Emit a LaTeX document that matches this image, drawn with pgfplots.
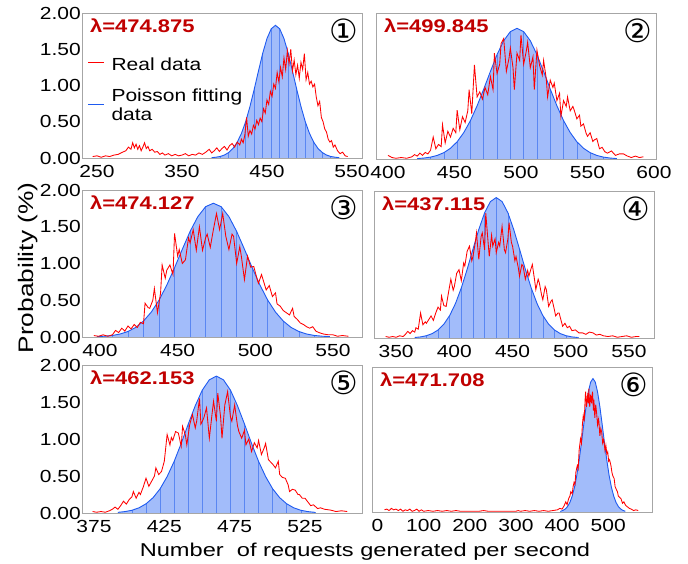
\documentclass[border=0pt]{standalone}
\usepackage{fontspec}
\setmainfont{Liberation Sans}[FakeStretch=1.2]
\newfontfamily\titlefont{Liberation Sans}[FakeStretch=1.27]
\newfontfamily\ylabfont{Liberation Sans}[FakeStretch=1.25]
\newfontfamily\circfont{DejaVu Sans}
\usepackage{pgfplots}
\usepackage{pgfplotstable}
\pgfplotsset{compat=1.18}

\definecolor{lamred}{RGB}{192,0,0}
\definecolor{fitblue}{RGB}{30,90,240}
\definecolor{fillblue}{RGB}{162,188,250}
\definecolor{stripeblue}{RGB}{90,135,242}
\definecolor{framegray}{RGB}{166,166,166}

\newcommand{\tickfont}{\fontsize{17.5}{19}\selectfont}

\pgfplotsset{
  panel/.style={
    scale only axis, width=280pt, height=145pt,
    ymin=0, ymax=2, ytick={0,0.5,1,1.5,2},
    axis line style={framegray, line width=0.8pt},
    tick style={draw=none}, major tick length=0pt,
    /pgf/number format/assume math mode=true,
    tick label style={font=\tickfont, text=black},
    yticklabel={\pgfmathprintnumber[fixed,fixed zerofill,precision=2]{\tick}},
    yticklabel style={inner sep=1pt},
    xticklabel style={inner sep=0pt, yshift=-7pt},
    axis on top, clip mode=individual,
  },
  noylabels/.style={yticklabels={}},
  fitfill/.style={fill=fillblue, draw=none, forget plot},
  fitstripe/.style={ycomb, stripeblue, line width=0.5pt, forget plot, mark=none,
    each nth point=2},
  fitline/.style={fitblue, line width=0.9pt, forget plot, mark=none},
  realline/.style={red, line width=0.85pt, forget plot, mark=none},
}
\tikzset{
  lamnode/.style={anchor=north west, inner sep=0pt, xshift=8pt, yshift=-5.5pt,
    text=lamred, font=\bfseries\fontsize{18.3}{20}\selectfont},
  circnode/.style={anchor=north east, inner sep=0pt, xshift=-4pt, yshift=-5.5pt,
    font=\circfont\fontsize{32}{34}\selectfont},
  legtext/.style={anchor=base west, inner sep=0pt, font=\tickfont},
}

% Poisson fitting curves, one table per panel
\pgfplotstableread{
x y
385 0.005
390 0.011
395 0.021
400 0.041
405 0.076
410 0.132
415 0.218
420 0.340
425 0.503
430 0.710
435 0.948
440 1.200
445 1.444
450 1.647
455 1.782
460 1.830
465 1.782
470 1.647
475 1.444
480 1.200
485 0.948
490 0.710
495 0.503
500 0.340
505 0.218
510 0.132
515 0.076
520 0.041
525 0.021
530 0.011
535 0.005
}\fitA
\pgfplotstableread{
x y
422 0.006
427 0.013
432 0.026
437 0.049
442 0.087
447 0.147
452 0.236
457 0.362
462 0.526
467 0.729
472 0.958
477 1.199
482 1.430
487 1.620
492 1.745
497 1.790
502 1.745
507 1.620
512 1.430
517 1.199
522 0.958
527 0.729
532 0.526
537 0.362
542 0.236
547 0.147
552 0.087
557 0.049
562 0.026
567 0.013
572 0.006
}\fitB
\pgfplotstableread{
x y
398 0.005
403 0.011
408 0.021
413 0.041
418 0.075
423 0.131
428 0.217
433 0.339
438 0.501
443 0.706
448 0.943
453 1.194
458 1.436
463 1.638
468 1.773
473 1.820
478 1.773
483 1.638
488 1.436
493 1.194
498 0.943
503 0.706
508 0.501
513 0.339
518 0.217
523 0.131
528 0.075
533 0.041
538 0.021
543 0.011
548 0.005
}\fitC
\pgfplotstableread{
x y
366 0.007
371 0.015
376 0.031
381 0.060
386 0.109
391 0.188
396 0.306
401 0.470
406 0.682
411 0.934
416 1.209
421 1.476
426 1.704
431 1.857
436 1.910
441 1.857
446 1.704
451 1.476
456 1.209
461 0.934
466 0.682
471 0.470
476 0.306
481 0.188
486 0.109
491 0.060
496 0.031
501 0.015
506 0.007
}\fitD
\pgfplotstableread{
x y
392 0.009
397 0.019
402 0.037
407 0.070
412 0.124
417 0.207
422 0.327
427 0.492
432 0.697
437 0.940
442 1.201
447 1.450
452 1.661
457 1.800
462 1.850
467 1.800
472 1.661
477 1.450
482 1.201
487 0.940
492 0.697
497 0.492
502 0.327
507 0.207
512 0.124
517 0.070
522 0.037
527 0.019
532 0.009
}\fitE
\pgfplotstableread{
x y
397 0.011
402 0.022
407 0.042
412 0.076
417 0.132
422 0.219
427 0.342
432 0.506
437 0.714
442 0.953
447 1.207
452 1.452
457 1.656
462 1.792
467 1.840
472 1.792
477 1.656
482 1.452
487 1.207
492 0.953
497 0.714
502 0.506
507 0.342
512 0.219
517 0.132
522 0.076
527 0.042
532 0.022
537 0.011
}\fitF

\begin{document}
\begin{tikzpicture}
\useasboundingbox (0pt,0pt) rectangle (688pt,563pt);

% ---- panel 1 ----
\begin{axis}[panel, at={(82pt,405pt)}, anchor=south west, height=145pt,
  xmin=232.4, xmax=561.8, xtick={250,350,450,550}]
\addplot[fitfill] table {\fitA} \closedcycle;
\addplot[fitstripe] table {\fitA};
\addplot[fitline] table {\fitA};
\addplot[realline] coordinates {
(245,0.02)(250,0.03)(255,0.01)(260,0.03)(265,0.02)(270,0.04)(275,0.05)(280,0.08)
(284,0.10)(287,0.15)(290,0.12)(292,0.21)(294,0.14)(296,0.19)(298,0.12)(300,0.17)
(302,0.10)(304,0.15)(306,0.21)(308,0.13)(310,0.16)(312,0.10)(315,0.12)(318,0.08)
(321,0.09)(324,0.05)(327,0.07)(330,0.04)(334,0.06)(338,0.03)(342,0.05)(346,0.03)
(350,0.04)(354,0.06)(358,0.03)(362,0.05)(366,0.04)(370,0.07)(374,0.05)(378,0.08)
(382,0.12)(385,0.07)(388,0.10)(391,0.14)(394,0.09)(397,0.13)(400,0.16)(403,0.11)
(406,0.17)(409,0.20)(412,0.15)(415,0.22)(418,0.18)(420,0.26)(422,0.21)(424,0.32)
(426,0.56)(428,0.30)(430,0.38)(432,0.33)(434,0.45)(436,0.40)(438,0.52)(440,0.46)
(442,0.55)(444,0.50)(446,0.68)(448,0.62)(450,0.80)(452,0.74)(454,0.92)(456,0.85)
(458,1.02)(460,0.96)(462,1.18)(464,1.05)(466,1.25)(468,1.12)(470,1.38)(472,1.22)
(474,1.48)(476,1.30)(478,1.50)(480,1.20)(482,1.35)(484,1.15)(486,1.28)(488,1.10)
(490,1.32)(492,1.22)(494,1.44)(496,1.08)(498,1.18)(500,1.02)(502,1.06)(504,0.98)
(506,1.02)(508,0.84)(510,0.72)(512,0.78)(514,0.56)(516,0.50)(518,0.40)(520,0.36)
(522,0.26)(524,0.22)(526,0.24)(528,0.15)(530,0.18)(533,0.10)(536,0.06)(539,0.08)
(542,0.03)(545,0.02)
};
\node[lamnode] at (rel axis cs:0,1) {λ=474.875};
\node[circnode] at (rel axis cs:1,1) {①};
% legend
\draw[red, line width=1pt] ([xshift=6pt,yshift=-49.3pt]rel axis cs:0,1) -- ++(16pt,0pt);
\node[legtext] at ([xshift=29.3pt,yshift=-58pt]rel axis cs:0,1) {Real data};
\draw[fitblue, line width=1pt] ([xshift=6pt,yshift=-91.3pt]rel axis cs:0,1) -- ++(16pt,0pt);
\node[legtext] at ([xshift=29.3pt,yshift=-88.7pt]rel axis cs:0,1) {Poisson fitting};
\node[legtext] at ([xshift=29.3pt,yshift=-108pt]rel axis cs:0,1) {data};
\end{axis}

% ---- panel 2 ----
\begin{axis}[panel, noylabels, at={(376pt,404pt)}, anchor=south west, height=146pt,
  xmin=391, xmax=601.5, xtick={400,450,500,550,600}]
\addplot[fitfill] table {\fitB} \closedcycle;
\addplot[fitstripe] table {\fitB};
\addplot[fitline] table {\fitB};
\addplot[realline] coordinates {
(400,0.05)(403,0.02)(406,0.01)(410,0.02)(414,0.01)(418,0.03)(420,0.06)(422,0.04)
(424,0.08)(426,0.05)(428,0.09)(430,0.07)(432,0.12)(434,0.30)(436,0.14)(438,0.20)
(440,0.17)(441,0.47)(443,0.22)(445,0.38)(447,0.30)(449,0.42)(451,0.36)(452,0.67)
(454,0.40)(456,0.58)(458,0.50)(460,0.66)(461,0.95)(463,0.62)(465,1.29)(467,0.85)
(469,0.92)(471,0.82)(473,0.98)(475,0.88)(477,1.13)(479,0.95)(480,1.45)(482,1.17)
(484,1.30)(485,1.58)(487,1.65)(489,1.20)(491,1.38)(492,1.52)(494,1.25)(495,0.95)
(497,1.45)(499,1.35)(500,1.70)(502,1.30)(504,1.48)(505,1.60)(507,1.25)(509,1.40)
(510,0.95)(512,1.49)(514,1.28)(516,1.15)(517,1.35)(519,1.10)(520,0.85)(522,1.08)
(524,0.98)(525,1.04)(527,0.80)(529,0.90)(530,0.58)(532,0.80)(534,0.72)(535,0.85)
(537,0.66)(539,0.72)(540,0.67)(542,0.55)(544,0.60)(545,0.45)(547,0.48)(549,0.35)
(550,0.31)(552,0.36)(554,0.24)(555,0.26)(557,0.28)(559,0.14)(561,0.16)(563,0.10)
(565,0.08)(568,0.11)(571,0.05)(574,0.07)(577,0.07)(580,0.04)(583,0.02)(586,0.04)
(589,0.02)(592,0.03)
};
\node[lamnode] at (rel axis cs:0,1) {λ=499.845};
\node[circnode] at (rel axis cs:1,1) {②};
\end{axis}

% ---- panel 3 ----
\begin{axis}[panel, at={(82pt,226pt)}, anchor=south west, height=147pt,
  xmin=388.4, xmax=568.7, xtick={400,450,500,550}]
\addplot[fitfill] table {\fitC} \closedcycle;
\addplot[fitstripe] table {\fitC};
\addplot[fitline] table {\fitC};
\addplot[realline] coordinates {
(396,0.02)(399,0.01)(402,0.03)(405,0.01)(408,0.03)(410,0.09)(412,0.06)(414,0.12)
(416,0.08)(418,0.15)(420,0.11)(422,0.17)(424,0.13)(426,0.20)(428,0.18)(429,0.46)
(431,0.40)(432,0.39)(434,0.50)(435,0.66)(437,0.33)(439,0.60)(440,0.98)(442,0.80)
(443,0.91)(445,0.98)(447,0.85)(448,1.41)(450,1.10)(451,1.19)(453,1.00)(455,1.05)
(457,1.35)(458,1.28)(460,1.46)(462,1.18)(464,1.50)(466,1.18)(468,1.35)(469,1.40)
(471,1.22)(473,1.46)(475,1.68)(477,1.46)(479,1.68)(481,1.37)(483,1.19)(485,1.40)
(486,1.37)(488,1.00)(490,1.23)(491,1.10)(493,0.78)(495,1.10)(497,0.95)(499,0.96)
(501,0.80)(502,0.73)(504,0.85)(505,0.78)(507,0.64)(509,0.70)(511,0.55)(513,0.60)
(514,0.45)(516,0.42)(518,0.36)(520,0.33)(522,0.30)(524,0.39)(525,0.28)(527,0.24)
(529,0.19)(531,0.17)(533,0.14)(535,0.12)(537,0.14)(539,0.08)(541,0.06)(544,0.04)
(547,0.03)(550,0.03)(553,0.01)(556,0.02)(560,0.01)
};
\node[lamnode] at (rel axis cs:0,1) {λ=474.127};
\node[circnode] at (rel axis cs:1,1) {③};
\end{axis}

% ---- panel 4 ----
\begin{axis}[panel, noylabels, at={(374pt,225pt)}, anchor=south west, height=147pt,
  xmin=331, xmax=571.5, xtick={350,400,450,500,550}]
\addplot[fitfill] table {\fitD} \closedcycle;
\addplot[fitstripe] table {\fitD};
\addplot[fitline] table {\fitD};
\addplot[realline] coordinates {
(341,0.02)(344,0.01)(347,0.02)(350,0.01)(353,0.03)(356,0.02)(358,0.05)(360,0.09)
(362,0.06)(364,0.10)(366,0.08)(367,0.14)(369,0.12)(371,0.34)(373,0.18)(375,0.22)
(376,0.20)(378,0.25)(380,0.30)(382,0.24)(384,0.34)(386,0.42)(388,0.38)(389,0.57)
(391,0.44)(393,0.43)(395,0.62)(397,0.80)(399,0.65)(400,0.70)(402,0.88)(404,0.93)
(406,0.78)(408,1.02)(409,0.98)(411,1.18)(413,1.25)(415,1.05)(416,1.11)(418,1.30)
(419,1.43)(421,1.07)(423,1.38)(424,1.43)(426,1.20)(427,1.70)(429,1.30)(430,1.11)
(432,1.40)(433,1.25)(435,1.35)(436,1.16)(438,1.30)(439,1.25)(441,1.52)(443,1.20)
(444,1.16)(446,1.35)(447,1.57)(449,1.30)(450,1.25)(452,1.05)(453,1.11)(455,0.95)
(456,0.84)(458,1.00)(459,0.98)(461,0.80)(463,0.92)(464,0.84)(466,0.95)(467,1.00)
(469,0.78)(470,0.66)(472,0.80)(473,0.75)(475,0.58)(476,0.52)(478,0.70)(479,0.66)
(481,0.43)(483,0.50)(484,0.52)(486,0.38)(487,0.30)(489,0.34)(490,0.34)(492,0.22)
(493,0.16)(495,0.20)(497,0.14)(499,0.16)(501,0.10)(504,0.11)(507,0.07)(510,0.07)
(513,0.05)(516,0.08)(519,0.07)(522,0.04)(525,0.05)(528,0.03)(532,0.02)(536,0.03)
(540,0.01)(544,0.02)(548,0.03)(552,0.01)(556,0.02)(559,0.02)
};
\node[lamnode] at (rel axis cs:0,1) {λ=437.115};
\node[circnode] at (rel axis cs:1,1) {④};
\end{axis}

% ---- panel 5 ----
\begin{axis}[panel, at={(82pt,50pt)}, anchor=south west, height=148pt,
  xmin=366.5, xmax=565.5, xtick={375,425,475,525}]
\addplot[fitfill] table {\fitE} \closedcycle;
\addplot[fitstripe] table {\fitE};
\addplot[fitline] table {\fitE};
\addplot[realline] coordinates {
(374,0.02)(377,0.01)(380,0.02)(383,0.01)(386,0.03)(388,0.05)(390,0.08)(392,0.05)
(394,0.10)(396,0.16)(398,0.12)(400,0.18)(402,0.22)(403,0.29)(405,0.20)(407,0.28)
(408,0.25)(410,0.35)(412,0.47)(414,0.36)(416,0.43)(418,0.50)(419,0.61)(421,0.52)
(423,0.56)(425,0.70)(427,1.06)(429,0.92)(430,1.02)(431,0.98)(433,1.10)(435,1.08)
(437,0.90)(438,1.17)(440,1.05)(441,0.92)(443,1.19)(445,1.33)(447,1.15)(448,1.24)
(450,1.55)(451,1.20)(453,1.28)(455,1.42)(457,1.01)(459,1.35)(460,1.51)(462,1.24)
(463,1.62)(465,1.30)(466,1.01)(468,1.46)(470,1.64)(472,1.30)(473,1.24)(475,1.46)
(477,1.18)(478,1.10)(480,1.01)(482,1.12)(483,0.92)(485,1.00)(487,0.83)(489,0.95)
(491,0.88)(492,0.98)(494,0.79)(496,0.88)(497,0.94)(499,0.72)(500,0.70)(502,0.66)
(504,0.61)(506,0.70)(507,0.52)(509,0.48)(511,0.47)(513,0.38)(514,0.29)(516,0.32)
(518,0.31)(520,0.25)(521,0.25)(523,0.20)(525,0.20)(527,0.15)(529,0.10)(531,0.11)
(534,0.06)(536,0.07)(539,0.05)(543,0.04)(547,0.02)(551,0.03)(555,0.02)
};
\node[lamnode] at (rel axis cs:0,1) {λ=462.153};
\node[circnode] at (rel axis cs:1,1) {⑤};
\end{axis}

% ---- panel 6 ----
\begin{axis}[panel, noylabels, at={(372pt,51pt)}, anchor=south west, height=145pt,
  xmin=-12, xmax=595, xtick={0,100,200,300,400,500,600}]
\addplot[fitfill] table {\fitF} \closedcycle;
\addplot[fitstripe, each nth point=3] table {\fitF};
\addplot[fitline] table {\fitF};
\addplot[realline] coordinates {
(15,0.03)(20,0.04)(25,0.02)(30,0.05)(35,0.03)(40,0.04)(45,0.02)(50,0.04)(55,0.01)
(60,0.03)(65,0.02)(70,0.04)(75,0.01)(80,0.02)(85,0.04)(90,0.01)(95,0.03)(100,0.01)
(110,0.02)(120,0.01)(130,0.02)(140,0.01)(150,0.02)(160,0.01)(170,0.02)(180,0.01)
(200,0.01)(220,0.01)(230,0.02)(240,0.01)(260,0.01)(280,0.01)(300,0.01)(305,0.02)
(310,0.01)(320,0.02)(330,0.01)(340,0.02)(350,0.01)(360,0.02)(370,0.01)(380,0.02)
(390,0.03)(395,0.05)(400,0.04)(404,0.08)(408,0.14)(411,0.10)(414,0.18)(417,0.22)
(419,0.28)(422,0.25)(424,0.35)(426,0.41)(428,0.38)(430,0.55)(433,0.64)(435,0.60)
(437,0.85)(440,1.01)(442,0.95)(444,1.20)(446,1.33)(448,1.25)(450,1.55)(451,1.66)
(453,1.45)(455,1.60)(457,1.50)(458,1.70)(460,1.45)(462,1.62)(464,1.50)(466,1.66)
(468,1.40)(469,1.55)(471,1.30)(473,1.48)(475,1.36)(477,1.20)(479,1.28)(480,1.24)
(482,1.05)(484,1.15)(486,1.10)(488,0.95)(490,1.00)(491,0.97)(493,0.85)(495,0.92)
(497,0.80)(499,0.83)(501,0.70)(503,0.72)(506,0.64)(508,0.55)(510,0.50)(513,0.46)
(515,0.35)(517,0.32)(520,0.28)(522,0.22)(525,0.20)(528,0.18)(531,0.12)(534,0.14)
(538,0.09)(542,0.07)(546,0.05)(550,0.04)(555,0.02)(560,0.03)(565,0.02)
};
\node[lamnode] at (rel axis cs:0,1) {λ=471.708};
\node[circnode] at (rel axis cs:1,1) {⑥};
\end{axis}

% shared axis titles
\node[rotate=90, anchor=base, font=\ylabfont\fontsize{21}{22}\selectfont]
  at (33pt,295pt) {Probability (\%)};
\node[anchor=base, font=\titlefont\fontsize{18.6}{20}\selectfont]
  at (365pt,6.3pt) {Number\ \ of requests generated per second};
\end{tikzpicture}
\end{document}
